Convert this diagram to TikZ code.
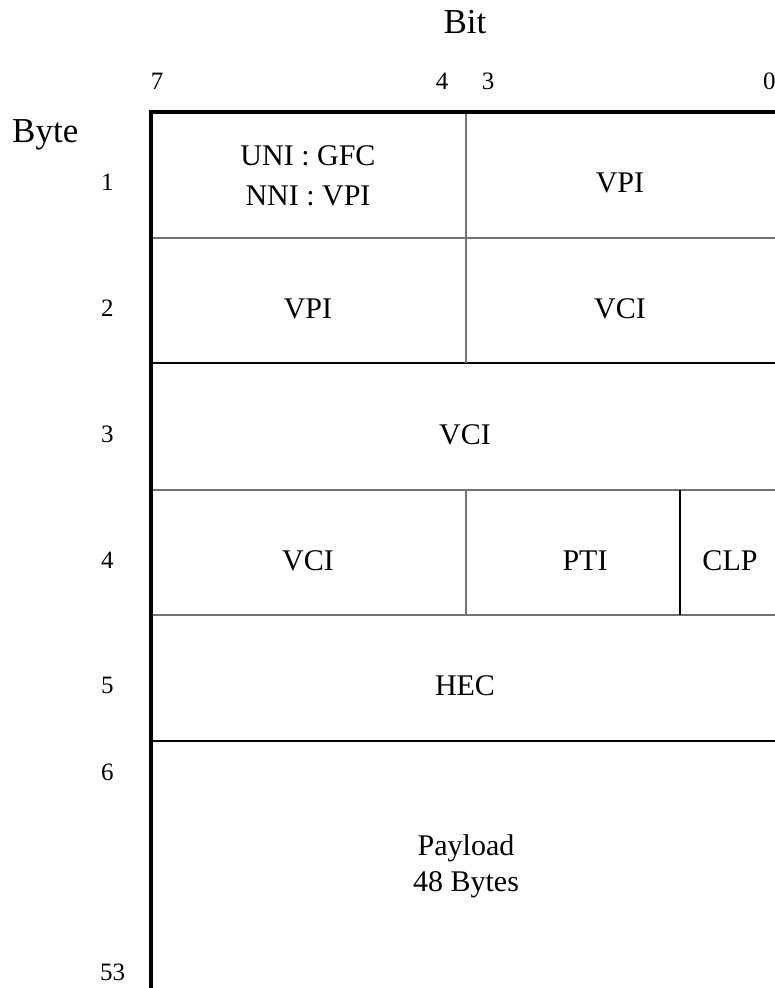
\documentclass[tikz,border=0pt]{standalone}
\usepackage{fontspec}
\setmainfont{Liberation Serif}
\begin{document}
\begin{tikzpicture}[x=1pt, y=-1pt,
  every node/.style={inner sep=0pt, font=\fontsize{30}{40}\selectfont},
  numlabel/.style={anchor=base west, font=\fontsize{25}{30}\selectfont},
  bitlabel/.style={anchor=base, font=\fontsize{25}{30}\selectfont},
  cell/.style={anchor=base},
  frame/.style={line width=4pt},
  grayrule/.style={draw=black!55, line width=1.3pt},
  blackrule/.style={draw=black, line width=1.3pt}]
  \useasboundingbox (0,0) rectangle (775,988);
  \clip (0,0) rectangle (775,988);
  % headings
  \node[anchor=base, font=\fontsize{35}{40}\selectfont] (bit) at (465,33) {Bit};
  \node[anchor=base west, font=\fontsize{35}{40}\selectfont] (byte) at (12,142) {Byte};
  \node[bitlabel] (b7) at (157,89) {7};
  \node[bitlabel] (b4) at (442,89) {4};
  \node[bitlabel] (b3) at (488,89) {3};
  \node[bitlabel, anchor=base west] (b0) at (763,89) {0};
  % byte numbers
  \node[numlabel] (n1) at (101,190) {1};
  \node[numlabel] (n2) at (101,316) {2};
  \node[numlabel] (n3) at (101,442) {3};
  \node[numlabel] (n4) at (101,568) {4};
  \node[numlabel] (n5) at (101,693) {5};
  \node[numlabel] (n6) at (101,780) {6};
  \node[numlabel] (n53) at (100,980) {53};
  % rules
  \draw[grayrule] (150,238) -- (790,238);
  \draw[blackrule] (150,363) -- (790,363);
  \draw[grayrule] (150,490) -- (790,490);
  \draw[grayrule] (150,615) -- (790,615);
  \draw[blackrule] (150,741) -- (790,741);
  \draw[grayrule] (466,112) -- (466,363);
  \draw[grayrule] (466,490) -- (466,615);
  \draw[blackrule] (680,490) -- (680,615);
  \draw[frame] (151,1000) -- (151,111.5) -- (790,111.5);
  % fields
  \node[align=center] (gfc) at (308,176) {UNI : GFC\\NNI : VPI};
  \node[cell] (vpia) at (620,192) {VPI};
  \node[cell] (vpib) at (308,318) {VPI};
  \node[cell] (vcia) at (620,318) {VCI};
  \node[cell] (vcib) at (465,444) {VCI};
  \node[cell] (vcic) at (308,570) {VCI};
  \node[cell] (pti) at (585,570) {PTI};
  \node[cell] (clp) at (730,570) {CLP};
  \node[cell] (hec) at (465,695) {HEC};
  \node[align=center, font=\fontsize{30}{36}\selectfont] (payload) at (466,866) {Payload\\48 Bytes};
\end{tikzpicture}
\end{document}
